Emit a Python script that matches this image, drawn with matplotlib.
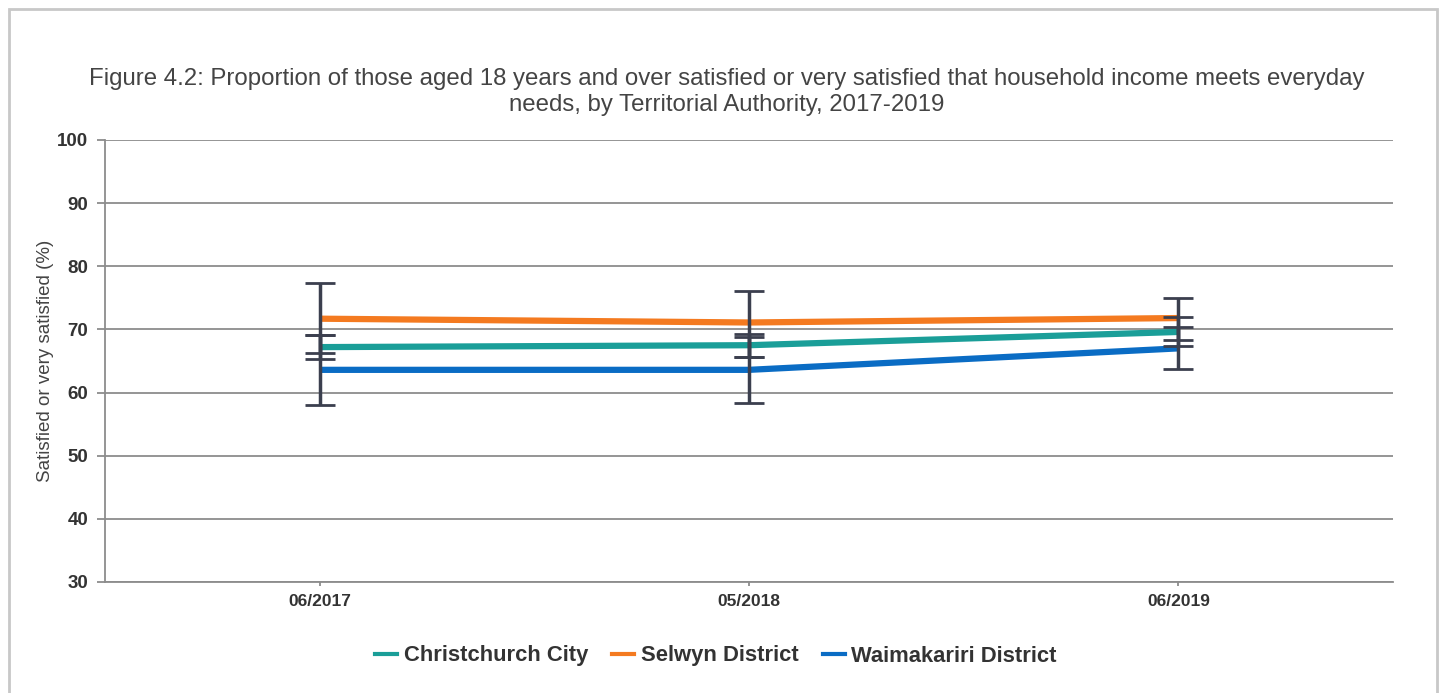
import matplotlib
matplotlib.use('Agg')
import numpy as np
import matplotlib.pyplot as plt
from matplotlib.patches import Rectangle
from matplotlib.lines import Line2D

plt.rcParams['font.family'] = ['Liberation Sans', 'DejaVu Sans']

periods = ['06/2017', '05/2018', '06/2019']
series_names = ['Christchurch City', 'Selwyn District', 'Waimakariri District']

chch = [67.2, 67.5, 69.6]
chch_low = [65.3, 65.7, 67.3]
chch_high = [69.1, 69.2, 71.9]

selwyn = [71.7, 71.1, 71.8]
selwyn_low = [66.3, 65.7, 68.3]
selwyn_high = [77.3, 76.1, 75.0]

waimak = [63.6, 63.6, 67.0]
waimak_low = [58.0, 58.4, 63.7]
waimak_high = [69.1, 68.75, 70.4]

colors = ['#1a9e98', '#f47a20', '#0a6cc4']
err_color = '#3b3f4e'
grid_color = '#8c8c8c'
text_color = '#333333'

fig = plt.figure(figsize=(14.44, 6.93), dpi=100)
ax = fig.add_axes([105/1444, 1 - 582/693, (1393 - 105)/1444, (582 - 140)/693])

# outer border of the chart panel
fig.patches.append(Rectangle((9/1444, -0.05), (1437 - 9)/1444, 1.05 - 9/693,
                             transform=fig.transFigure, fill=False,
                             edgecolor='#c8c8c8', linewidth=2, zorder=0))

x = np.arange(len(periods))
all_vals = [chch, selwyn, waimak]
all_low = [chch_low, selwyn_low, waimak_low]
all_high = [chch_high, selwyn_high, waimak_high]

for vals, col in zip(all_vals, colors):
    ax.plot(x, vals, color=col, linewidth=4.5, solid_capstyle='butt', zorder=3)

for vals, lo, hi in zip(all_vals, all_low, all_high):
    vals = np.array(vals); lo = np.array(lo); hi = np.array(hi)
    _, caps, bars = ax.errorbar(x, vals, yerr=[vals - lo, hi - vals], fmt='none',
                                ecolor=err_color, elinewidth=2.5, capsize=11,
                                capthick=2, zorder=4)
    for c in caps:
        c.set_color('#6c707c')

ax.set_xlim(-0.5, 2.5)
ax.set_ylim(30, 100)
ax.set_yticks(np.arange(30, 101, 10))
ax.set_xticks(x)
ax.set_xticklabels(periods)
ax.grid(which='major', axis='y', color=grid_color, linewidth=1.3)
ax.set_axisbelow(True)

for s in ['top', 'right']:
    ax.spines[s].set_visible(False)
for s in ['left', 'bottom']:
    ax.spines[s].set_color(grid_color)
    ax.spines[s].set_linewidth(1.3)

ax.tick_params(axis='y', length=6, width=1.3, color=grid_color, pad=6,
               labelsize=13.5, labelcolor=text_color)
ax.tick_params(axis='x', length=3, width=1.3, color=grid_color, pad=6,
               labelsize=12.5, labelcolor=text_color)
for lab in ax.get_yticklabels() + ax.get_xticklabels():
    lab.set_fontweight('bold')

ax.set_ylabel('Satisfied or very satisfied (%)', fontsize=13.5, color='#444444', labelpad=2)

fig.text(0.503, 1 - 92/693,
         'Figure 4.2: Proportion of those aged 18 years and over satisfied or very satisfied that household income meets everyday\nneeds, by Territorial Authority, 2017-2019',
         ha='center', va='center', fontsize=17.3, color='#444444', linespacing=1.25)

handles = [Line2D([0], [0], color=c, linewidth=3) for c in colors]
leg = fig.legend(handles, series_names, loc='center', bbox_to_anchor=(716/1444, 1 - 656/693),
                 ncol=3, frameon=False, handlelength=1.0, handletextpad=0.3, columnspacing=1.1,
                 prop={'weight': 'bold', 'size': 15.8})
for t in leg.get_texts():
    t.set_color(text_color)

plt.savefig('out.png', dpi=100)
